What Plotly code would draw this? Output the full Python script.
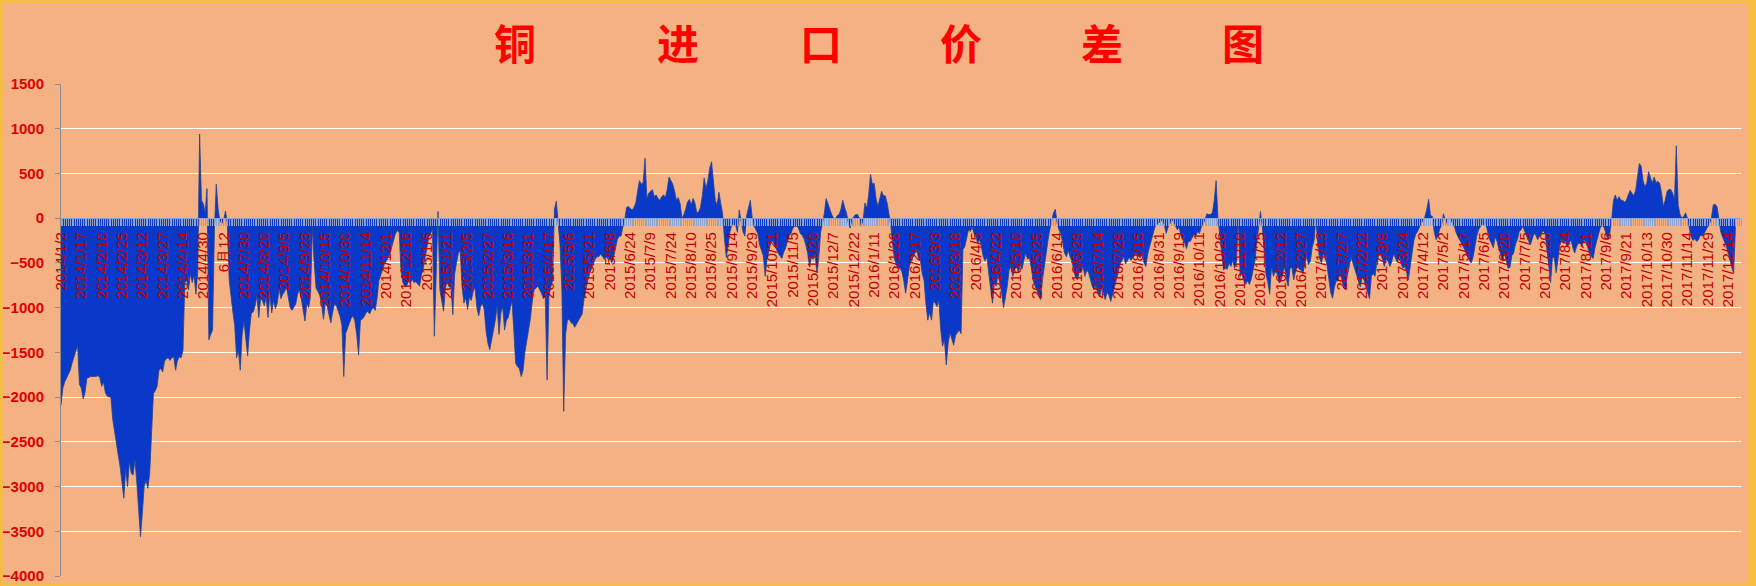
import plotly.graph_objects as go

# ---------------- data ----------------
tick_labels = [
    "2014/1/2", "2014/1/17", "2014/2/10", "2014/2/25", "2014/3/12", "2014/3/27", "2014/4/14", "2014/4/30",
    "6月12", "2014/7/30", "2014/8/20", "2014/9/5", "2014/9/23", "2014/10/15", "2014/10/30", "2014/11/14",
    "2014/12/1", "2014/12/16",
    "2015/1/6", "2015/1/21", "2015/2/5", "2015/2/27", "2015/3/16", "2015/3/31", "2015/4/17", "2015/5/6",
    "2015/5/21", "2015/6/8", "2015/6/24", "2015/7/9", "2015/7/24", "2015/8/10", "2015/8/25", "2015/9/14",
    "2015/9/29", "2015/10/21", "2015/11/5", "2015/11/20", "2015/12/7", "2015/12/22",
    "2016/1/11", "2016/1/26", "2016/2/17", "2016/3/3", "2016/3/18", "2016/4/5", "2016/4/22", "2016/5/10",
    "2016/5/25", "2016/6/14", "2016/6/29", "2016/7/14", "2016/7/29", "2016/8/15", "2016/8/31", "2016/9/19",
    "2016/10/11", "2016/10/26", "2016/11/10", "2016/11/25", "2016/12/12", "2016/12/27",
    "2017/1/13", "2017/2/7", "2017/2/22", "2017/3/9", "2017/3/24", "2017/4/12", "2017/5/2", "2017/5/17",
    "2017/6/5", "2017/6/20", "2017/7/5", "2017/7/20", "2017/8/4", "2017/8/21", "2017/9/6", "2017/9/21",
    "2017/10/13", "2017/10/30", "2017/11/14", "2017/11/29", "2017/12/14",
]
label_every = 11          # one category label every 11 trading days
n_categories = 910        # trading-day slots on the category axis

spread_2014 = [
    -2090, -1900, -1830, -1790, -1740, -1700, -1620, -1560, -1500, -1420,
    -1860, -1900, -2020, -1950, -1790, -1780, -1770, -1770, -1770, -1770,
    -1760, -1780, -1880, -1830, -1950, -1990, -2000, -2000, -2250, -2400,
    -2520, -2650, -2780, -2950, -3130, -2800, -3000, -2720, -2850, -2870,
    -2700, -2950, -3300, -3560, -3300, -3000, -2930, -3020, -2850, -2300,
    -1960, -1930, -1880, -1700, -1680, -1720, -1600, -1570, -1560, -1590,
    -1560, -1550, -1700, -1590, -1550, -1560, -1480, -720, -690, -800,
    -620, -720, -640, -850, -600, 940, 200, 160, 60, 330,
    -1360, -1300, -1250, -130, 380, 100, -30, -60, -20, 80,
    -60, -690, -900, -1050, -1200, -1560, -1480, -1700, -1300, -1150,
    -1350, -1540, -1250, -1060, -1050, -980, -870, -1110, -900, -920,
    -980, -880, -1110, -850, -1060, -920, -1010, -950, -790, -900,
    -850, -820, -770, -900, -1000, -1030, -1000, -960, -850, -800,
    -900, -1050, -1150, -950, -1000, -870, -100, -500, -780, -820,
    -860, -960, -1130, -950, -980, -1080, -1170, -1050, -960, -980,
    -1040, -1100, -1200, -1770, -1290, -1230, -1180, -1120, -1090, -1150,
    -1300, -1530, -1140, -1130, -1100, -1060, -1040, -1070, -1020, -1000,
    -1030, -900, -700, -640, -560, -510, -480, -440, -400, -320,
    -240, -170, -140, -160, -600, -720, -760, -760, -700, -730,
    -680, -720, -710, -740, -760, -640, -560, -440, -310, -210,
]
spread_2015 = [
    -170, -130, -1320, -700, 75, -800, -900, -1040, -780, -700,
    -770, -760, -1080, -620, -500, -390, -360, -760, -950, -890,
    -1020, -880, -920, -820, -770, -1000, -1090, -990, -950, -1020,
    -1260, -1400, -1470, -1360, -1290, -1140, -980, -1300, -1060, -990,
    -1250, -1140, -1110, -1020, -920, -1250, -1620, -1660, -1680, -1770,
    -1700, -1500, -1370, -1270, -1120, -930, -800, -780, -760, -800,
    -840, -900, -870, -1810, -880, -770, -700, 100, 190, -50,
    -300, -800, -2160, -1300, -1140, -1130, -1170, -1180, -1220, -1180,
    -1140, -1110, -1070, -900, -780, -700, -620, -570, -500, -460,
    -430, -430, -400, -430, -460, -430, -460, -440, -500, -440,
    -330, -240, -200, -200, -100, -20, 120, 130, 110, 90,
    120, 170, 300, 420, 380, 400, 670, 220, 280, 300,
    320, 240, 260, 220, 200, 240, 260, 230, 320, 460,
    420, 380, 300, 200, 230, 160, 0, 40, 100, 180,
    210, 150, 220, 170, 60, 70, 120, 250, 450, 330,
    420, 560, 630, 420, 200, 150, 290, 160, 50, -240,
    -440, -300, -150, -70, -80, -70, -160, 90, -10, -150,
    -200, 30, 120, 200, 0, -90, -130, -170, -300, -370,
    -420, -650, -460, -370, -280, -250, -300, -350, -390, -420,
    -450, -380, -340, -260, -200, -170, -110, -90, -90, -110,
    -170, -190, -230, -300, -390, -540, -440, -460, -400, -610,
    -450, -160, -50, 50, 220, 150, 90, 40, 0, -10,
    30, 40, 100, 200, 120, 60, -50, -110, -20, 20,
    40, 40, 0, -90, -20, 170, 110, 260, 490, 380,
    390, 220, 130, 220, 300, 250, 250, 170, 30, -80,
]
spread_2016 = [
    -300, -460, -520, -560, -560, -600, -700, -840, -700, -540,
    -480, -430, -380, -350, -450, -480, -620, -700, -960, -1140,
    -1050, -1140, -930, -950, -990, -920, -1250, -1430, -1360, -1640,
    -1400, -1280, -1350, -1420, -1310, -1280, -1250, -1290, -350, -320,
    -240, -130, -150, -100, -170, -210, -280, -240, -320, -430,
    -480, -430, -620, -770, -950, -720, -760, -620, -730, -840,
    -1000, -880, -760, -580, -540, -650, -560, -540, -600, -520,
    -570, -470, -390, -460, -440, -560, -690, -760, -800, -870,
    -910, -700, -540, -400, -250, -130, -20, 60, 100, -60,
    -130, -170, -280, -390, -430, -360, -430, -480, -590, -660,
    -690, -590, -610, -540, -650, -580, -610, -690, -760, -800,
    -760, -840, -880, -780, -850, -910, -830, -860, -930, -840,
    -760, -690, -610, -510, -480, -430, -510, -480, -440, -470,
    -440, -390, -400, -430, -440, -400, -500, -540, -400, -320,
    -240, -170, -90, -70, -50, -30, -20, -80, -170, -100,
    -50, -20, -40, -90, -130, -100, -200, -240, -280, -340,
    -260, -260, -220, -180, -200, -150, -170, -100, -60, -20,
    50, 40, 40, 60, 200, 420, 0, -200, -390, -580,
    -560, -570, -500, -540, -470, -560, -490, -10, -650, -620,
    -700, -740, -700, -740, -680, -580, -480, -280, -90, 75,
    -100, -350, -630, -720, -850, -540, -650, -600, -620, -720,
    -710, -620, -540, -680, -760, -560, -550, -690, -590, -540,
    -570, -580, -620, -500, -430, -520, -480, -330, -250, 0,
    -300, -450, -500, -400, -430, -530, -690, -830, -895, -770,
]
spread_2017 = [
    -700, -700, -620, -680, -780, -800, -640, -540, -440, -500,
    -570, -630, -720, -770, -660, -690, -760, -830, -900, -650,
    -620, -650, -480, -420, -400, -460, -540, -460, -480, -540,
    -490, -400, -440, -490, -440, -490, -560, -540, -600, -690,
    -540, -400, -250, -180, -150, -100, -60, -20, 20, 100,
    210, 30, 20, -150, -240, -200, -120, -80, 50, -20,
    -60, 0, -20, -60, -100, -170, -210, -240, -280, -330,
    -380, -430, -470, -500, -440, -320, -200, -130, -90, -60,
    -80, -70, -160, -240, -280, -330, -210, -260, -340, -420,
    -480, -390, -470, -560, -550, -420, -390, -290, -240, -150,
    -130, -90, -150, -210, -250, -300, -220, -170, -190, -240,
    -200, -170, -140, -170, -340, -560, -720, -430, -450, -610,
    -430, -300, -240, -280, -250, -320, -280, -240, -330, -390,
    -320, -280, -280, -320, -240, -260, -320, -390, -430, -450,
    -330, -240, -170, -100, -80, -110, -170, -240, -170, -20,
    200, 260, 200, 240, 200, 200, 180, 200, 260, 310,
    280, 250, 310, 440, 610, 580, 420, 350, 390, 520,
    460, 390, 460, 400, 410, 390, 280, 130, 200, 300,
    320, 320, 280, 200, 810, 150, 40, 0, 20, 60,
    0, -120, -210, -250, -230, -260, -240, -190, -200, -170,
    -130, -100, -60, 0, 150, 155, 130, 0, -150, -210,
    -260, -310, -390, -470, -560, -620, -100,
]
values = spread_2014 + spread_2015 + spread_2016 + spread_2017
day_index = list(range(len(values)))

y_min, y_max, y_step = -4000, 1500, 500
title_chars = ["铜", "进", "口", "价", "差", "图"]

# ---------------- style / layout ----------------
W, H = 1756, 586
ML, MR, MT, MB = 61, 15, 84, 10
PW, PH = W - ML - MR, H - MT - MB

BG = "#F4B183"
GOLD = "#F7BC45"
FILL = "#0A38C8"
EDGE = "#24448C"
TICKC = "#8BA3D2"


def px_x(px):
    return (px - ML) / PW


def px_y(py):
    return (H - MB - py) / PH


fig = go.Figure()
fig.add_trace(go.Scatter(
    x=day_index, y=values, mode="lines", fill="tozeroy",
    line=dict(color=EDGE, width=0.8), fillcolor=FILL, hoverinfo="skip",
))

zero_pos = (0 - y_min) / (y_max - y_min)

fig.update_layout(
    width=W, height=H,
    margin=dict(l=ML, r=MR, t=MT, b=MB, pad=0, autoexpand=False),
    paper_bgcolor=BG, plot_bgcolor=BG,
    showlegend=False,
    xaxis=dict(
        range=[0, n_categories - 1],
        automargin=False,
        tickmode="array",
        tickvals=[label_every * k for k in range(len(tick_labels))],
        ticktext=tick_labels,
        tickangle=-90,
        ticks="outside", ticklen=7, tickwidth=1, tickcolor=TICKC,
        showgrid=False, zeroline=False,
        showline=True, linecolor=TICKC, linewidth=1,
        anchor="free", position=zero_pos,
        tickfont=dict(family="Liberation Sans", size=15, color="#C00000"),
        minor=dict(tick0=0, dtick=1, ticks="outside", ticklen=7, tickwidth=1,
                   tickcolor=TICKC, showgrid=False),
    ),
    yaxis=dict(
        range=[y_min, y_max],
        automargin=False,
        tickmode="linear", tick0=y_min, dtick=y_step,
        showgrid=True, gridcolor="#FFFFFF", gridwidth=1,
        zeroline=False,
        showline=True, linecolor="#8C8C8C", linewidth=1,
        ticks="outside", ticklen=5, tickcolor="#8C8C8C",
        ticklabelstandoff=8,
        tickfont=dict(family="Liberation Sans", size=15, color="#E00000", weight="bold"),
    ),
)

# title characters, spread across the top like the original
title_px = [515, 678, 821, 961, 1102, 1243]
for ch, px in zip(title_chars, title_px):
    fig.add_annotation(
        text=ch, x=px_x(px), y=px_y(41), xref="paper", yref="paper",
        xanchor="center", yanchor="middle", showarrow=False,
        font=dict(family="Noto Sans CJK SC", size=42, color="#FF0000", weight="bold"),
    )

# gold frame around the chart
for (x0, y0, x1, y1) in [(0, 0, W, 3), (0, H - 3, W, H), (0, 0, 3, H), (W - 9, 0, W, H)]:
    fig.add_shape(type="rect", xref="paper", yref="paper",
                  x0=px_x(x0), x1=px_x(x1), y0=px_y(y1), y1=px_y(y0),
                  fillcolor=GOLD, line=dict(width=0), layer="above")

fig.write_html(
    "out.html",
    config={"displayModeBar": False},
    post_script="document.body.style.margin='0';document.body.style.overflow='hidden';",
)
